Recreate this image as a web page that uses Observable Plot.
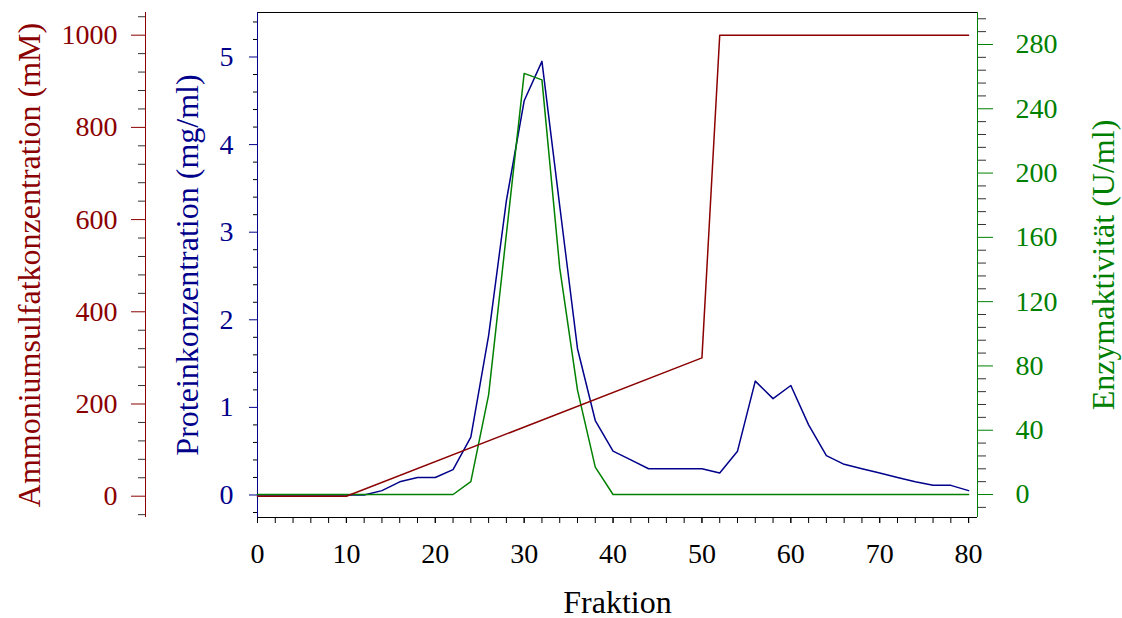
<!DOCTYPE html>
<html>
<head>
<meta charset="utf-8">
<script src="https://cdn.jsdelivr.net/npm/d3@7"></script>
<script src="https://cdn.jsdelivr.net/npm/@observablehq/plot@0.6"></script>
<style>
  html, body { margin: 0; padding: 0; background: #fff; }
</style>
</head>
<body>
<div id="chart"></div>
<script>
// ---- data ----
const proteinFraktion = [0,2,4,6,8,10,12,14,16,18,20,22,24,26,28,30,32,34,36,38,40,42,44,46,48,50,52,54,56,58,60,62,64,66,68,70,72,74,76,78,80];
const proteinWerte    = [0,0,0,0,0,0,0,0.05,0.15,0.2,0.2,0.29,0.66,1.82,3.36,4.5,4.95,3.3,1.67,0.85,0.5,0.4,0.3,0.3,0.3,0.3,0.25,0.5,1.3,1.1,1.25,0.8,0.45,0.35,0.3,0.25,0.2,0.15,0.11,0.11,0.05];

const enzymFraktion = [0,2,4,6,8,10,12,14,16,18,20,22,24,26,28,30,32,34,36,38,40,42,44,46,48,50,52,54,56,58,60,62,64,66,68,70,72,74,76,78,80];
const enzymWerte    = [0,0,0,0,0,0,0,0,0,0,0,0,8,62,162,262,258,141,65,17,0,0,0,0,0,0,0,0,0,0,0,0,0,0,0,0,0,0,0,0,0];

const salzFraktion = [0,10,50,52,80];
const salzWerte    = [0,0,300,1000,1000];

const xTicks = [0,10,20,30,40,50,60,70,80];
const proteinTicks = [0,1,2,3,4,5];
const salzTicks = [0,200,400,600,800,1000];
const enzymTicks = [0,40,80,120,160,200,240,280];

const titelX = "Fraktion";
const titelProtein = "Proteinkonzentration (mg/ml)";
const titelSalz = "Ammoniumsulfatkonzentration (mM)";
const titelEnzym = "Enzymaktivität (U/ml)";

// ---- colours ----
const cRed = "#8b0000", cBlue = "#00008b", cGreen = "#008000";

// ---- scales (shared y in protein units; others mapped onto it) ----
const pDom = [-0.257, 5.508];
const rDom = [-46.2, 1049.2];
const gDom = [-14.3, 299.9];
const r2p = d3.scaleLinear(rDom, pDom);
const g2p = d3.scaleLinear(gDom, pDom);

const protein = proteinFraktion.map((f, i) => ({f, v: proteinWerte[i]}));
const enzym = enzymFraktion.map((f, i) => ({f, v: enzymWerte[i]}));
const salz = salzFraktion.map((f, i) => ({f, v: salzWerte[i]}));

const near = (a, b) => Math.abs(a - b) < 1e-6;
const xMinor = d3.range(0, 81, 2);
const pMinor = d3.range(-1, 28).map(k => k * 0.2).filter(v => !near(v, Math.round(v)));
const rMinor = d3.range(-40, 1041, 40).filter(v => v % 200 !== 0);
const gMinor = d3.range(-8, 297, 8).filter(v => v % 40 !== 0);

const FS = 28;

const chart = Plot.plot({
  width: 1122,
  height: 618,
  marginTop: 12,
  marginBottom: 101,
  marginLeft: 257,
  marginRight: 145,
  style: {fontFamily: "'Liberation Serif', 'Times New Roman', serif", fontSize: FS + "px", background: "#fff", overflow: "visible"},
  x: {domain: [0, 81]},
  y: {domain: pDom},
  marks: [
    // frame
    Plot.ruleY([pDom[1]], {stroke: "black", strokeWidth: 1}),
    Plot.ruleY([pDom[0]], {stroke: "black", strokeWidth: 1}),
    Plot.ruleX([0], {stroke: cBlue, strokeWidth: 1}),
    Plot.ruleX([81], {stroke: cGreen, strokeWidth: 1}),
    Plot.ruleX([0], {dx: -112, stroke: cRed, strokeWidth: 1}),

    // x axis
    Plot.axisX({ticks: xMinor, tickSize: 6, tickFormat: () => "", stroke: "black", label: null}),
    Plot.axisX({ticks: xTicks, tickSize: 6, tickPadding: 20, fontSize: FS, tickFormat: d3.format("d"), fill: "black", stroke: "black", label: null}),

    // protein axis (left, blue)
    Plot.axisY({anchor: "left", ticks: pMinor, tickSize: 4, tickFormat: () => "", stroke: "black", label: null}),
    Plot.axisY({anchor: "left", ticks: proteinTicks, tickSize: 8, tickPadding: 16, fontSize: FS, tickFormat: d3.format("d"), fill: cBlue, stroke: cBlue, label: null}),

    // ammonium sulfate axis (far left, red)
    Plot.axisY({anchor: "left", dx: -112, ticks: rMinor.map(r2p), tickSize: 7, tickFormat: () => "", stroke: "#333", label: null}),
    Plot.axisY({anchor: "left", dx: -112, ticks: salzTicks.map(r2p), tickSize: 14, tickPadding: 14,
      tickFormat: d => String(Math.round(r2p.invert(d))), fontSize: FS, fill: cRed, stroke: cRed, label: null}),

    // enzyme axis (right, green)
    Plot.axisY({anchor: "right", ticks: gMinor.map(g2p), tickSize: 8, tickFormat: () => "", stroke: "#333", label: null}),
    Plot.axisY({anchor: "right", ticks: enzymTicks.map(g2p), tickSize: 15, tickPadding: 23,
      tickFormat: d => String(Math.round(g2p.invert(d))), fontSize: FS, fill: cGreen, stroke: cGreen, label: null}),

    // lines
    Plot.line(protein, {x: "f", y: "v", stroke: cBlue, strokeWidth: 1.5}),
    Plot.line(enzym, {x: "f", y: d => g2p(d.v), stroke: cGreen, strokeWidth: 1.5}),
    Plot.line(salz, {x: "f", y: d => r2p(d.v), stroke: cRed, strokeWidth: 1.5}),

    // axis titles
    Plot.text([titelX], {text: d => d, frameAnchor: "bottom", textAnchor: "middle", dy: 95, fontSize: 32, fill: "black"}),
    Plot.text([titelProtein], {text: d => d, frameAnchor: "left", textAnchor: "middle", dx: -70, rotate: -90, fontSize: 32, fill: cBlue}),
    Plot.text([titelSalz], {text: d => d, frameAnchor: "left", textAnchor: "middle", dx: -228, rotate: -90, fontSize: 32, fill: cRed}),
    Plot.text([titelEnzym], {text: d => d, frameAnchor: "right", textAnchor: "middle", dx: 126, rotate: -90, fontSize: 32, fill: cGreen})
  ]
});
document.getElementById("chart").appendChild(chart);
</script>
</body>
</html>
